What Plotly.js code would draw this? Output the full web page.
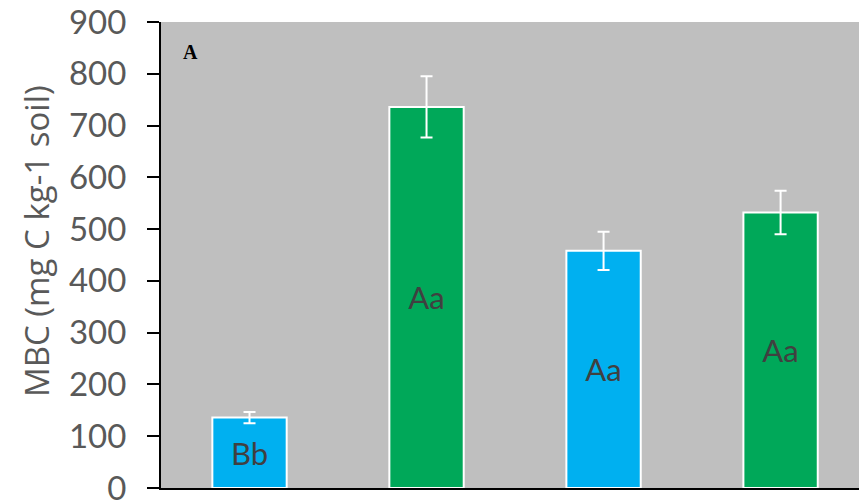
<!DOCTYPE html>
<html>
<head>
<meta charset="utf-8">
<script src="https://cdn.plot.ly/plotly-3.0.1.min.js"></script>
<style>
  html, body { margin: 0; padding: 0; background: #ffffff; }
  #chart { width: 859px; height: 502px; }
</style>
</head>
<body>
<div id="chart"></div>
<script>
// Microbial biomass carbon per treatment, with standard errors and letter groups
const categories = ['T1', 'T2', 'T3', 'T4'];
const mbcValues = [136, 736, 458, 532];
const mbcErrors = [11, 59, 37, 42];
const groupLetters = ['Bb', 'Aa', 'Aa', 'Aa'];
const barColors = ['#00b0f0', '#00a859', '#00b0f0', '#00a859'];
const yTickValues = [0, 100, 200, 300, 400, 500, 600, 700, 800, 900];
const yTitle = 'MBC (mg C kg-1 soil)';

const axisFont = { family: 'Lato, "Open Sans", sans-serif', size: 33, color: '#595959' };

const trace = {
  type: 'bar',
  x: categories,
  y: mbcValues,
  width: 0.42,
  marker: { color: barColors, line: { color: '#ffffff', width: 2 } },
  error_y: { type: 'data', array: mbcErrors, visible: true, color: '#ffffff', thickness: 2, width: 6 },
  text: groupLetters,
  textposition: 'inside',
  insidetextanchor: 'middle',
  constraintext: 'none',
  textfont: { family: 'Lato, "Open Sans", sans-serif', size: 31, color: '#404040' },
  hoverinfo: 'none'
};

const layout = {
  width: 859,
  height: 502,
  margin: { l: 161, r: 0, t: 22, b: 14 },
  paper_bgcolor: '#ffffff',
  plot_bgcolor: '#bfbfbf',
  showlegend: false,
  xaxis: {
    type: 'category',
    range: [-0.5, 3.443],
    showticklabels: false,
    ticks: '',
    showgrid: false,
    zeroline: false,
    showline: true,
    linecolor: '#000000',
    linewidth: 2,
    layer: 'below traces',
    fixedrange: true
  },
  yaxis: {
    range: [0, 900],
    tickvals: yTickValues,
    ticktext: yTickValues.map(String),
    tickfont: axisFont,
    ticks: 'outside',
    ticklen: 12,
    tickwidth: 2,
    tickcolor: '#000000',
    ticklabelstandoff: 14,
    ticklabeloverflow: 'allow',
    showgrid: false,
    zeroline: false,
    showline: true,
    linecolor: '#000000',
    linewidth: 2,
    fixedrange: true
  },
  annotations: [
    {
      // rotated y-axis title, placed freely so it sits where it should
      text: yTitle,
      xref: 'paper', yref: 'paper',
      x: (36 - 161) / 698, y: 0.53,
      xanchor: 'center', yanchor: 'middle',
      textangle: -90,
      showarrow: false,
      font: { family: '"Open Sans", Lato, sans-serif', size: 33, color: '#595959' }
    },
    {
      text: '<b>A</b>',
      xref: 'paper', yref: 'paper',
      x: 0.028, y: 0.935,
      xanchor: 'left', yanchor: 'middle',
      showarrow: false,
      font: { family: '"Liberation Serif", "DejaVu Serif", serif', size: 20, color: '#000000' }
    }
  ]
};

Plotly.newPlot('chart', [trace], layout, { displayModeBar: false, staticPlot: true });
</script>
</body>
</html>
